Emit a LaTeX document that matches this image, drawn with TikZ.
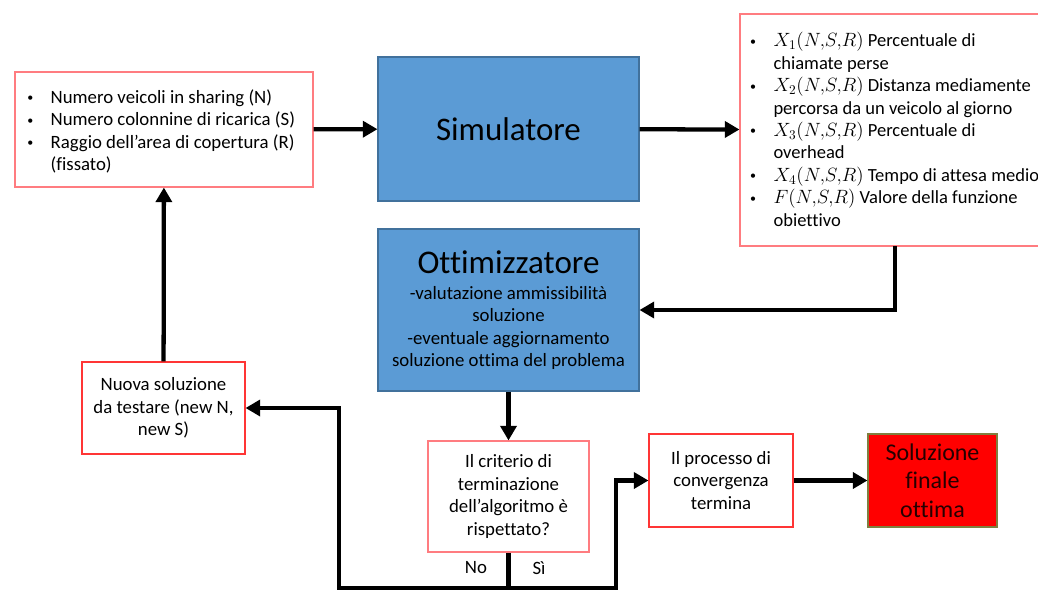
\documentclass[tikz,border=0pt]{standalone}
\usepackage{fontspec}
\setmainfont{Carlito}[Ligatures=NoCommon]
\usetikzlibrary{positioning}
\usetikzlibrary{calc}
\usetikzlibrary{arrows.meta}
\definecolor{sim blue}{HTML}{5B9BD5}
\definecolor{sim edge}{HTML}{41719C}
\definecolor{pale red}{HTML}{FF7C80}
\definecolor{strong red}{HTML}{FF3535}
\definecolor{olive edge}{HTML}{7F7F3F}
% A small list bullet followed by the hanging gap
\newcommand{\listdot}{\makebox[17.5pt][l]{\raisebox{1.2pt}{\fontsize{9}{9}\selectfont\textbullet}}}
% Arguments of the output quantities, with tight commas
\newcommand{\nsr}{(N,\!S,\!R)}
\tikzset{
    % Heavy black connectors with a solid triangular head
    flow/.style={line width=3.2pt, -{Triangle[length=11pt,width=12pt]}},
    flow line/.style={line width=3.2pt},
%
    % Ordinary body text, as on the slide
    body font/.style={font=\fontsize{14.1}{16.8}\selectfont},
%
    % Outlined white boxes holding text
    text box/.style={draw=#1, line width=0.8pt, fill=white, inner sep=0,
        align=center, body font},
    text box/.default=pale red,
%
    % The two big blue blocks
    process box/.style={draw=sim edge, line width=0.8pt, fill=sim blue,
        inner sep=0, align=center, minimum width=195.75pt}}

\begin{document}
\begin{tikzpicture}[x=0.75pt, y=-0.75pt]
\useasboundingbox (0,0) rectangle (1038,596);

% Inputs of the simulator
\node[text box, minimum width=223.5pt, minimum height=86.25pt]
    (inputs) at (164,129.5)
    {\hspace*{9pt}\makebox[214pt][l]{\raisebox{-2.2pt}[\height][\depth]{\begin{tabular}{@{}l@{}l@{}}
     \listdot & Numero veicoli in sharing (N)\\
     \listdot & Numero colonnine di ricarica (S)\\
     \listdot & Raggio dell’area di copertura (R)\\
              & (fissato)
     \end{tabular}}}};

% Simulator and optimizer
\node[process box, minimum height=108pt,
    font=\fontsize{24.7}{30}\selectfont] (simulatore) at (508.5,129) {Simulatore};

\node[process box, minimum height=121.5pt, body font] (ottimizzatore) at (508.5,310)
    {{\fontsize{24.8}{28}\selectfont Ottimizzatore}\\[3pt]
     -valutazione ammissibilità\\
     soluzione\\
     -eventuale aggiornamento\\
     soluzione ottima del problema};

% Outputs of the simulator; the box runs past the right edge
\node[text box, minimum width=228.75pt, minimum height=174pt,
    font=\fontsize{13.9}{16.8}\selectfont]
    (outputs) at (892.5,130)
    {\hspace*{7.5pt}\makebox[221pt][l]{\raisebox{-1.5pt}[\height][\depth]{\begin{tabular}{@{}l@{}l@{}}
     \listdot & $X_1\nsr$ Percentuale di\\
              & chiamate perse\\
     \listdot & $X_2\nsr$ Distanza mediamente\\
              & percorsa da un veicolo al giorno\\
     \listdot & $X_3\nsr$ Percentuale di\\
              & overhead\\
     \listdot & $X_4\nsr$ Tempo di attesa medio\\
     \listdot & $F\nsr$ Valore della funzione\\
              & obiettivo
     \end{tabular}}}};

% Decision and its outcomes
\node[text box, minimum width=120.75pt, minimum height=83.25pt]
    (criterio) at (508.5,496.5)
    {Il criterio di\\ terminazione\\ dell’algoritmo è\\ rispettato?};

\node[text box=strong red, minimum width=122.25pt, minimum height=69pt]
    (nuova) at (163.5,408)
    {Nuova soluzione\\ da testare (new N,\\ new S)};

\node[text box=strong red, minimum width=108pt, minimum height=69.75pt]
    (processo) at (721,480.5)
    {Il processo di\\ convergenza\\ termina};

\node[draw=olive edge, line width=0.8pt, fill=red, inner sep=0, align=center,
    minimum width=96.75pt, minimum height=69.75pt,
    font=\fontsize{18}{21.4}\selectfont, text=black!85!red]
    (finale) at (932.5,480.5) {Soluzione\\ finale\\ ottima};

\node[body font] (no) at (476,568) {No};
\node[body font] (si) at (539,568) {Sì};

% Turning points of the loop
\coordinate (fork) at (508.5,588);
\coordinate (no turn) at (339,588);
\coordinate (si turn) at (616,588);
\coordinate (back) at (895,246);

\draw[flow] (inputs) -- (simulatore);
\draw[flow] (simulatore) -- (inputs -| outputs.west);
\draw[flow] (back) |- (ottimizzatore.east);
\draw[flow] (ottimizzatore) -- (criterio);
\draw[flow line] (criterio.south) -- (fork);
\draw[flow] (fork) -- (no turn) |- (nuova.east);
\draw[flow] (fork) -- (si turn) |- (processo.west);
\draw[flow] (processo) -- (finale);
\draw[flow] (nuova) -- (inputs);

\end{tikzpicture}
\end{document}
